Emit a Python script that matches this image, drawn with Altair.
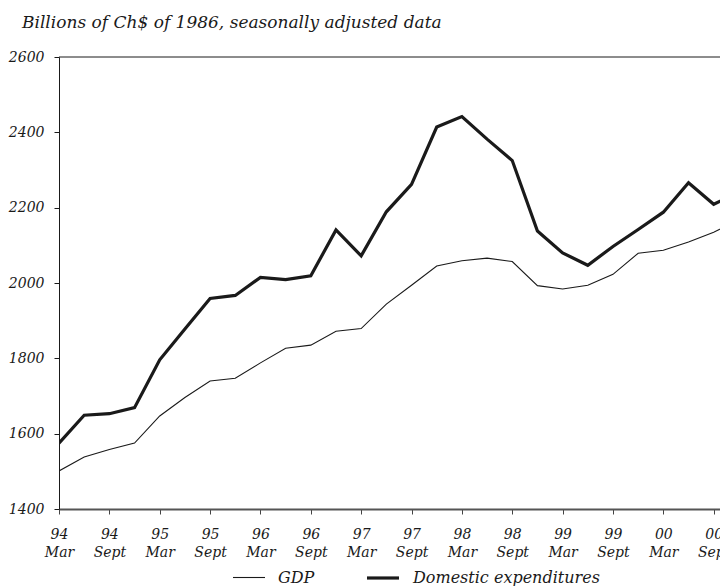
import pandas as pd
import altair as alt

# Quarterly data, 1994 Q1 (Mar) .. 2000 Q4
quarter_idx = list(range(28))
gdp = [1501, 1538, 1558, 1575, 1647, 1696, 1740, 1747, 1788, 1827,
       1835, 1872, 1879, 1944, 1994, 2045, 2059, 2066, 2057, 1993,
       1984, 1994, 2023, 2079, 2087, 2109, 2135, 2167]
domestic = [1575, 1649, 1653, 1669, 1796, 1878, 1959, 1967, 2015, 2009,
            2019, 2141, 2072, 2189, 2262, 2414, 2442, 2382, 2325, 2138,
            2080, 2047, 2097, 2142, 2188, 2266, 2209, 2240]
series_names = ['GDP', 'Domestic expenditures']

tick_years = ['94', '94', '95', '95', '96', '96', '97', '97',
              '98', '98', '99', '99', '00', '00']
tick_months = ['Mar', 'Sept'] * 7
y_ticks = [1400, 1600, 1800, 2000, 2200, 2400, 2600]

FONT = 'DejaVu Serif'
INK = '#1a1a1a'

df = pd.DataFrame({
    't': quarter_idx * 2,
    'value': gdp + domestic,
    'series': [series_names[0]] * len(gdp) + [series_names[1]] * len(domestic),
})

tick_text = ','.join(f"'{y}|{m}'" for y, m in zip(tick_years, tick_months))
label_expr = f"split([{tick_text}][floor(datum.value / 2)], '|')"

lines = alt.Chart(df).mark_line(color=INK, clip=True).encode(
    x=alt.X('t:Q',
            scale=alt.Scale(domain=[0, 26.25], nice=False, zero=False),
            axis=alt.Axis(values=list(range(0, 27, 2)), labelExpr=label_expr,
                          title=None, grid=False, labelFlush=False,
                          labelOverlap=False, labelBound=False, labelFont=FONT,
                          labelFontStyle='italic', labelFontSize=14,
                          labelLineHeight=18, labelColor=INK,
                          labelPadding=13, tickSize=5, tickColor='#444',
                          domainColor='#555', domainWidth=2)),
    y=alt.Y('value:Q',
            scale=alt.Scale(domain=[y_ticks[0], y_ticks[-1]], nice=False, zero=False),
            axis=alt.Axis(values=y_ticks, format='d', title=None, grid=False,
                          labelFlush=False, labelFont=FONT,
                          labelFontStyle='italic', labelFontSize=14,
                          labelColor=INK, labelPadding=10, tickSize=5,
                          tickColor=INK, domainColor=INK)),
    strokeWidth=alt.StrokeWidth(
        'series:O', sort=series_names,
        scale=alt.Scale(domain=series_names, range=[1.1, 3.2]),
        legend=alt.Legend(orient='none', legendX=173, legendY=503,
                          direction='horizontal', title=None,
                          symbolType='stroke', symbolSize=1024,
                          symbolStrokeColor=INK, labelFont=FONT,
                          labelFontStyle='italic', labelFontSize=16,
                          labelColor=INK, labelOffset=12, labelLimit=0,
                          columnPadding=45)),
)

# top frame line at the top of the value axis
top_line = alt.Chart(pd.DataFrame({'top': [y_ticks[-1]]})).mark_rule(
    color=INK, strokeWidth=1
).encode(y='top:Q')

chart = (lines + top_line).properties(
    width=661,
    height=452,
    autosize=alt.AutoSizeParams(type='none'),
    padding={'left': 51, 'top': 49, 'right': 0, 'bottom': 77},
    title=alt.TitleParams(
        'Billions of Ch$ of 1986, seasonally adjusted data',
        font=FONT, fontStyle='italic', fontWeight='normal', fontSize=17,
        color=INK, anchor='start', frame='group', dx=-37, offset=18),
).configure_view(stroke=None)

chart.save('out.html', embed_options={'renderer': 'svg', 'actions': False})
